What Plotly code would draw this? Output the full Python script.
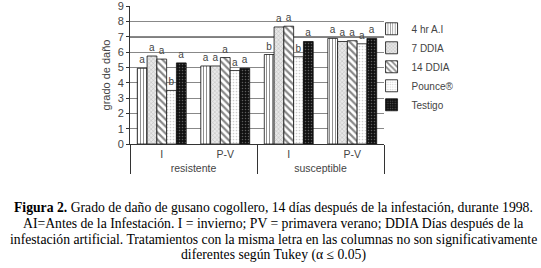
import plotly.graph_objects as go

groups = ["resistente", "resistente", "susceptible", "susceptible"]
seasons = ["I", "P-V", "I", "P-V"]
series = ["4 hr A.I", "7 DDIA", "14 DDIA", "Pounce®", "Testigo"]
v_4hr = [4.95, 5.1, 5.85, 6.9]
v_7d = [5.75, 5.1, 7.65, 6.7]
v_14d = [5.55, 5.65, 7.7, 6.75]
v_pounce = [3.5, 4.8, 5.7, 6.55]
v_testigo = [5.3, 4.95, 6.7, 6.9]
l_4hr = ["a", "a", "b", "a"]
l_7d = ["a", "a", "a", "a"]
l_14d = ["a", "a", "a", "a"]
l_pounce = ["b", "a", "b", "a"]
l_testigo = ["a", "a", "a", "a"]
caption_lines = [
    "<b>Figura 2.</b> Grado de daño de gusano cogollero, 14 días después de la infestación, durante 1998.",
    "AI=Antes de la Infestación. I = invierno; PV = primavera verano; DDIA Días después de la",
    "infestación artificial. Tratamientos con la misma letra en las columnas no son significativamente",
    "diferentes según Tukey (α ≤ 0.05)",
]

values = [v_4hr, v_7d, v_14d, v_pounce, v_testigo]
letters = [l_4hr, l_7d, l_14d, l_pounce, l_testigo]
styles = [
    dict(shape="|", fgcolor="#222", bgcolor="white", size=3, solidity=0.35),
    dict(shape="x", fgcolor="#888", bgcolor="#e8e8e8", size=3, solidity=0.3),
    dict(shape="\\", fgcolor="#111", bgcolor="white", size=5, solidity=0.45),
    dict(shape=".", fgcolor="#999", bgcolor="white", size=3, solidity=0.25),
    dict(shape=".", fgcolor="#aaa", bgcolor="#111", size=3, solidity=0.2),
]

fig = go.Figure()
for name, v, lab, st in zip(series, values, letters, styles):
    fig.add_trace(go.Bar(
        x=[groups, seasons], y=v, name=name,
        text=lab, textposition="outside", cliponaxis=False,
        textfont=dict(size=10, color="#444", family="Liberation Sans"),
        marker=dict(color=st["bgcolor"], pattern=st,
                    line=dict(color="#111", width=0.8)),
    ))

fig.add_shape(type="line", xref="paper", x0=0, x1=1, yref="y", y0=7, y1=7,
              line=dict(color="#555", width=1.5), layer="below")

H = 138.3  # plot height in px
fig.update_layout(
    width=541, height=268,
    margin=dict(l=130, r=157, t=6, b=124, autoexpand=False),
    paper_bgcolor="white", plot_bgcolor="white",
    barmode="group", bargap=0.23, bargroupgap=0,
    font=dict(family="Liberation Sans", size=10, color="#444"),
    showlegend=True,
    legend=dict(x=0.951, y=0.94, xanchor="left", yanchor="top",
                bgcolor="rgba(0,0,0,0)",
                font=dict(size=10, color="#444"), tracegroupgap=9,
                itemwidth=30),
    yaxis=dict(range=[0, 9.02], dtick=1, showgrid=True, gridcolor="#888",
               gridwidth=1, showline=True, linecolor="#333", linewidth=1,
               ticks="outside", ticklen=3, tickcolor="#333", automargin=False,
               tickfont=dict(size=11),
               title=dict(text="grado de daño", font=dict(size=11), standoff=4),
               zeroline=False),
    xaxis=dict(type="multicategory", showline=True, linecolor="#333",
               linewidth=1, showdividers=True, dividercolor="#333",
               dividerwidth=1, tickfont=dict(size=10.5), automargin=False),
)

for i, line in enumerate(caption_lines):
    yc = 208 + 16 * i
    fig.add_annotation(
        xref="paper", yref="paper", x=(273 - 130) / 254, y=-(yc - 144.3) / H,
        xanchor="center", yanchor="middle", showarrow=False,
        font=dict(family="Liberation Serif", size=13.7, color="black"),
        text=line,
    )

fig.write_html("out.html", config={"displayModeBar": False},
               post_script="document.body.style.margin='0';document.body.style.overflow='hidden';")
